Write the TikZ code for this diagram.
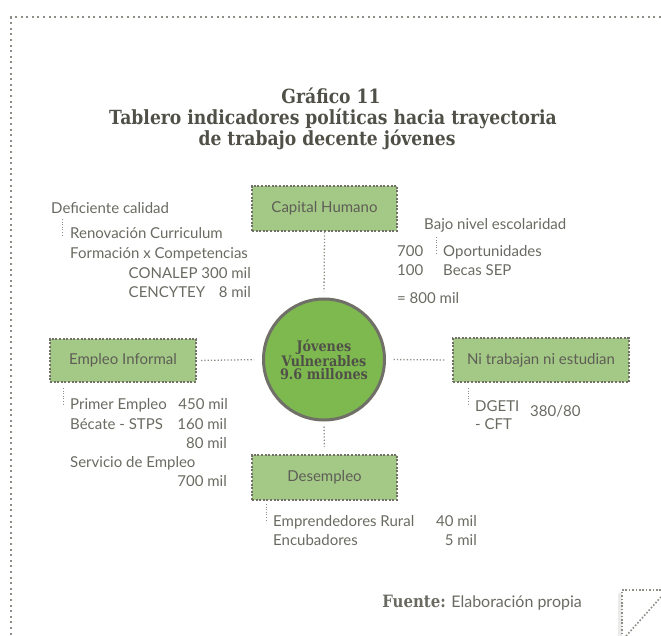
\documentclass[tikz,border=0pt]{standalone}
\usepackage{fontspec}
\setmainfont{Lato}
\newfontfamily\heavyf[FakeStretch=0.88]{DejaVu Serif}
\definecolor{txt}{HTML}{6A6A62}
\definecolor{boxtxt}{HTML}{5E5E56}
\definecolor{ttl}{HTML}{505048}
\definecolor{boxg}{HTML}{A4C986}
\definecolor{circg}{HTML}{7DB94F}
\definecolor{edgec}{HTML}{707068}
\definecolor{dotc}{HTML}{8E8E86}
\tikzset{
  lab/.style={text=txt, font=\fontsize{15}{18}\selectfont, inner sep=0pt},
  ttlline/.style={text=ttl, font=\heavyf\bfseries\fontsize{19.5}{23}\selectfont, inner sep=0pt, anchor=base},
  catbox/.style={fill=boxg, draw=edgec, line width=2pt, dash pattern=on 2pt off 1.6pt,
    text=boxtxt, font=\fontsize{15}{18}\selectfont, inner sep=0pt},
  link/.style={draw=dotc, line width=1.3pt, dash pattern=on 1.3pt off 2pt},
  tickl/.style={draw=dotc, line width=1pt, dash pattern=on 1pt off 1.6pt},
  frame/.style={draw=dotc, line width=2pt, dash pattern=on 2pt off 3.6pt},
}
\begin{document}
\begin{tikzpicture}[x=1pt,y=-1pt]
\useasboundingbox (0,0) rectangle (661,636);
% outer frame
\coordinate (fTL) at (11,17);
\coordinate (fTR) at (661,17);
\coordinate (fBL) at (11,636);
\draw[frame] (fTR) -- (fTL) -- (fBL);

% title
\node[ttlline] (t1) at (331,104) {Gráfico 11};
\node[ttlline] (t2) at (333,125) {Tablero indicadores políticas hacia trayectoria};
\node[ttlline] (t3) at (327,146) {de trabajo decente jóvenes};

% category boxes
\node[catbox, minimum width=145, minimum height=45] (cap) at (324.5,208.5) {Capital Humano};
\node[catbox, minimum width=146, minimum height=43] (emp) at (123,360.5) {Empleo Informal};
\node[catbox, minimum width=176, minimum height=44] (ni) at (541,360) {Ni trabajan ni estudian};
\node[catbox, minimum width=145, minimum height=45] (des) at (324.5,477.5) {Desempleo};

% central circle
\node[circle, fill=circg, draw=edgec, line width=3pt, minimum size=121, inner sep=0pt,
  text=ttl, align=center, font=\heavyf\bfseries\fontsize{14.5}{13}\selectfont] (circ) at (324,359.5)
  {Jóvenes\\Vulnerables\\9.6 millones};

% connectors
\draw[link, shorten >=6] (cap.south) -- (circ.north);
\draw[link, shorten <=4, shorten >=8] (emp.east) -- (circ.west);
\draw[link, shorten <=7.5, shorten >=6] (circ.east) -- (ni.west);
\draw[link, shorten <=5, shorten >=7] (circ.south) -- (des.north);

% top-left group
\node[lab, anchor=base west] (dc) at (51,214) {Deficiente calidad};
\coordinate (dcA) at (62,219); \coordinate (dcB) at (62,237);
\draw[tickl] (dcA) -- (dcB);
\node[lab, anchor=base west] (rc) at (70,239) {Renovación Curriculum};
\node[lab, anchor=base west] (fc) at (70,259) {Formación x Competencias};
\node[lab, anchor=base east] (con) at (251,279) {CONALEP 300 mil};
\node[lab, anchor=base west] (cen) at (con.base west |- 0,298) {CENCYTEY};
\node[lab, anchor=base east] (cenv) at (251,298) {8 mil};

% top-right group
\node[lab, anchor=base west] (bn) at (424,230) {Bajo nivel escolaridad};
\coordinate (bnA) at (436,237); \coordinate (bnB) at (436,255);
\draw[tickl] (bnA) -- (bnB);
\node[lab, anchor=base west] (n700) at (397,257) {700};
\node[lab, anchor=base west] (op) at (443,257) {Oportunidades};
\node[lab, anchor=base west] (n100) at (397,276) {100};
\node[lab, anchor=base west] (bs) at (443,276) {Becas SEP};
\node[lab, anchor=base west] (tot) at (397,303) {= 800 mil};

% middle-left group
\coordinate (eiA) at (63,388); \coordinate (eiB) at (63,406);
\draw[tickl] (eiA) -- (eiB);
\node[lab, anchor=base west] (pe) at (70,409) {Primer Empleo};
\node[lab, anchor=base east] (pev) at (228,409) {450 mil};
\node[lab, anchor=base west] (bc) at (70,429) {Bécate - STPS};
\node[lab, anchor=base east] (bcv) at (227,429) {160 mil};
\node[lab, anchor=base east] (bcv2) at (227,448) {80 mil};
\node[lab, anchor=base west] (se) at (70,467) {Servicio de Empleo};
\node[lab, anchor=base east] (sev) at (227,486) {700 mil};

% middle-right group
\coordinate (niA) at (468,388); \coordinate (niB) at (468,406);
\draw[tickl] (niA) -- (niB);
\node[lab, anchor=base west] (dg) at (475,411) {DGETI};
\node[lab, anchor=base west] (cft) at (475,429) {- CFT};
\node[lab, anchor=base west] (dgv) at (530,416) {380/80};

% bottom group
\coordinate (deA) at (266,504); \coordinate (deB) at (266,521);
\draw[tickl] (deA) -- (deB);
\node[lab, anchor=base west] (er) at (273,526) {Emprendedores Rural};
\node[lab, anchor=base east] (erv) at (477,526) {40 mil};
\node[lab, anchor=base west] (en) at (273,545) {Encubadores};
\node[lab, anchor=base east] (env) at (477,545) {5 mil};

% source
\node[lab, anchor=base east, font=\fontsize{16}{19}\selectfont] (src) at (582,607)
  {{\heavyf\bfseries\fontsize{17}{19}\selectfont Fuente:} Elaboración propia};

% page-corner icon
\fill[black!8] (618,593) rectangle (622,636);
\coordinate (pc1) at (622,590);
\coordinate (pc2) at (661,590);
\coordinate (pc3) at (622,636);
\coordinate (pc4) at (626,636);
\coordinate (pc5) at (661,597);
\draw[frame, line width=1.6pt, dash pattern=on 1.6pt off 1.8pt] (pc2) -- (pc1) -- (pc3);
\draw[frame, line width=1.6pt, dash pattern=on 1.6pt off 1.8pt] (pc4) -- (pc5);
\end{tikzpicture}
\end{document}
